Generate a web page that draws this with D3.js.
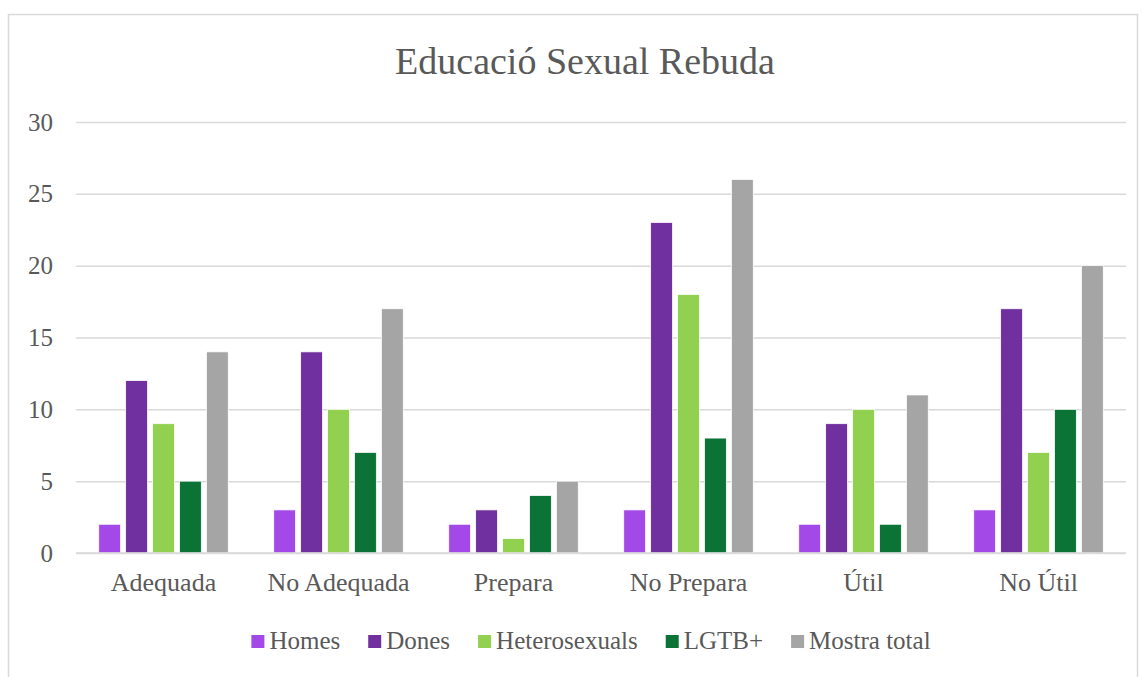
<!DOCTYPE html>
<html>
<head>
<meta charset="utf-8">
<script src="https://cdn.jsdelivr.net/npm/d3@7"></script>
<style>
    body { margin: 0; background: #fff; }
    text { font-family: "Liberation Serif", "DejaVu Serif", serif; fill: #595959; }
</style>
</head>
<body>
<svg id="chart"></svg>
<script>
const categories = ["Adequada", "No Adequada", "Prepara", "No Prepara", "Útil", "No Útil"];
const seriesNames = ["Homes", "Dones", "Heterosexuals", "LGTB+", "Mostra total"];
const homes = [2, 3, 2, 3, 2, 3];
const dones = [12, 14, 3, 23, 9, 17];
const heterosexuals = [9, 10, 1, 18, 10, 7];
const lgtb = [5, 7, 4, 8, 2, 10];
const mostraTotal = [14, 17, 5, 26, 11, 20];
const yTicks = [0, 5, 10, 15, 20, 25, 30];

const SERIES_COLORS = ["#A349E8", "#7030A0", "#92D050", "#0B7336", "#A5A5A5"];
const seriesValues = [homes, dones, heterosexuals, lgtb, mostraTotal];

const WIDTH = 1146;
const HEIGHT = 677;
const PADDING = { top: 122, bottom: 124, start: 76, end: 20 };

const svg = d3.select("#chart")
    .attr("width", WIDTH)
    .attr("height", HEIGHT);

// chart frame
svg.append("rect")
    .attr("x", 8.5)
    .attr("y", 14.5)
    .attr("width", 1129)
    .attr("height", 680)
    .attr("fill", "none")
    .attr("stroke", "#D9D9D9")
    .attr("stroke-width", 1.5);

svg.append("text")
    .attr("x", 585)
    .attr("y", 74)
    .attr("text-anchor", "middle")
    .style("font-size", "38px")
    .text("Educació Sexual Rebuda");

const data = categories.map((cat, i) => ({
    category: cat,
    values: seriesNames.map((name, j) => ({ name: name, value: seriesValues[j][i], color: SERIES_COLORS[j] }))
}));

const x0 = d3.scaleBand()
    .domain(categories)
    .range([PADDING.start, WIDTH - PADDING.end])
    .paddingInner(0.26)
    .paddingOuter(0.13);

const x1 = d3.scaleBand()
    .domain(seriesNames)
    .range([0, x0.bandwidth()])
    .paddingInner(0.19);

const yScale = d3.scaleLinear()
    .domain([0, 30])
    .range([HEIGHT - PADDING.bottom, PADDING.top]);

// gridlines
const yAxis = d3.axisLeft(yScale)
    .tickValues(yTicks)
    .tickSize(-(WIDTH - PADDING.end - PADDING.start))
    .tickPadding(23);

const yAxisGroup = svg.append("g")
    .attr("transform", `translate(${PADDING.start}, 0)`)
    .call(yAxis);
yAxisGroup.select(".domain").remove();
yAxisGroup.selectAll("line").attr("stroke", "#D9D9D9").attr("stroke-width", 1.5);
yAxisGroup.selectAll("text")
    .style("font-size", "25px")
    .style("font-family", "'Liberation Serif', serif")
    .attr("fill", "#595959");

const groups = svg.selectAll(".group")
    .data(data)
    .enter()
    .append("g")
    .classed("group", true)
    .attr("transform", d => `translate(${x0(d.category)}, 0)`);

groups.selectAll("rect")
    .data(d => d.values)
    .enter()
    .append("rect")
    .attr("x", d => x1(d.name))
    .attr("y", d => yScale(d.value))
    .attr("width", x1.bandwidth())
    .attr("height", d => yScale(0) - yScale(d.value))
    .attr("fill", d => d.color)
    .attr("stroke", "#fff")
    .attr("stroke-width", 0.75);

// x axis line
svg.append("line")
    .attr("x1", PADDING.start)
    .attr("x2", WIDTH - PADDING.end)
    .attr("y1", yScale(0))
    .attr("y2", yScale(0))
    .attr("stroke", "#D9D9D9")
    .attr("stroke-width", 1.5);

const xAxis = d3.axisBottom(x0).tickSize(0).tickPadding(20);
const xAxisGroup = svg.append("g")
    .attr("transform", `translate(0, ${yScale(0)})`)
    .call(xAxis);
xAxisGroup.select(".domain").remove();
xAxisGroup.selectAll("text")
    .style("font-size", "26px")
    .style("font-family", "'Liberation Serif', serif")
    .attr("fill", "#595959");

// legend
const legend = svg.append("g");
const legendItems = legend.selectAll(".legend-item")
    .data(seriesNames)
    .enter()
    .append("g")
    .classed("legend-item", true);

legendItems.append("rect")
    .attr("width", 13)
    .attr("height", 13)
    .attr("y", -14)
    .attr("fill", (d, i) => SERIES_COLORS[i]);

legendItems.append("text")
    .attr("x", 18)
    .style("font-size", "25px")
    .text(d => d);

let offset = 0;
const GAP = 28;
legendItems.each(function() {
    const item = d3.select(this);
    item.attr("transform", `translate(${offset}, 0)`);
    offset += 18 + item.select("text").node().getComputedTextLength() + GAP;
});
const legendWidth = offset - GAP;
legend.attr("transform", `translate(${591 - legendWidth / 2}, 649)`);
</script>
</body>
</html>
